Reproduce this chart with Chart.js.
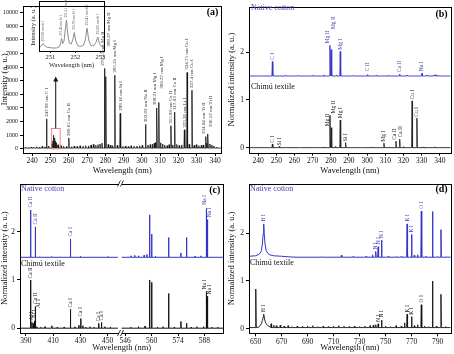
<!DOCTYPE html>
<html>
<head>
<meta charset="utf-8">
<script src="https://cdn.jsdelivr.net/npm/chart.js@4.4.1/dist/chart.umd.min.js"></script>
<style>
  html, body { margin: 0; padding: 0; background: #fff; }
  canvas { position: absolute; }
</style>
</head>
<body>
<canvas id="chartA" width="227" height="177" style="left:0;top:0"></canvas>
<canvas id="chartB" width="227" height="177" style="left:227px;top:0"></canvas>
<canvas id="chartC" width="227" height="177" style="left:0;top:177px"></canvas>
<canvas id="chartD" width="227" height="177" style="left:227px;top:177px"></canvas>
<canvas id="chartInset" width="80" height="70" style="left:28px;top:0"></canvas>
<script>
// ---------------- panel (a): raw spectrum 240-340 nm ----------------
var aTicksX = [240, 250, 260, 270, 280, 290, 300, 310, 320, 330, 340];
var aTicksY = [0, 1000, 2000, 3000, 4000, 5000, 6000, 7000, 8000, 9000, 10000];
var aBase = 60;
var aLineWl  = [247.86, 250.69, 251.43, 251.61, 251.92, 252.41, 252.85, 253.4, 260.05, 279.55, 280.27, 285.21, 288.16, 302.0, 308.21, 309.27, 315.89, 317.93, 323.26, 324.75, 327.40, 334.94, 336.12];
var aLineInt = [2200, 350, 600, 1000, 700, 800, 550, 450, 800, 5900, 5300, 5400, 2600, 1800, 3000, 3400, 1700, 2700, 1400, 5600, 4300, 900, 1100];
var aNoiseWl  = [236.5, 238, 239.5, 241, 242.5, 244, 245.5, 247, 249, 254.2, 255.8, 257.2, 258.8, 261.5, 263, 264.6, 266.2, 267.8, 269.3, 270.8, 272.2, 273.5, 274.8, 276, 277.1, 278.2, 281.6, 282.8, 284, 286.6, 289.6, 291, 292.6, 294.1, 295.7, 297.3, 298.8, 300.2, 303.3, 304.6, 305.8, 306.8, 307.5, 310.2, 311.3, 312.5, 313.8, 314.9, 316.9, 319.1, 320.4, 321.7, 325.9, 328.6, 329.8, 331.2, 332.5, 333.6, 335.6, 337.2, 338.3, 339.4, 341];
var aNoiseInt = [110, 90, 140, 120, 160, 130, 180, 150, 210, 300, 230, 190, 200, 160, 210, 180, 230, 200, 240, 220, 290, 330, 270, 310, 360, 420, 330, 280, 240, 260, 180, 210, 170, 230, 200, 210, 220, 260, 290, 320, 360, 420, 480, 450, 360, 280, 230, 310, 290, 330, 250, 290, 330, 260, 310, 230, 260, 290, 420, 360, 290, 210, 140];
var aLabelWl   = [247.86, 260.05, 279.55, 280.27, 285.21, 288.16, 302.0, 308.21, 309.27, 315.89, 317.93, 323.26, 324.75, 327.40, 334.94, 336.12];
var aLabelAt   = [2350, 950, 6100, 7500, 5600, 2800, 1950, 3200, 4400, 1850, 2850, 1550, 5800, 4450, 1100, 1600];
var aLabelText = ['247.86 nm C I', '260.05 nm Ca II', '279.55 nm Mg II', '280.27 nm Mg II', '285.21 nm Mg I', '288.16 nm Si I', '302.02 nm Na II', '308.21 nm Mg I', '309.27 nm Mg I', '315.89 nm Ca II', '317.93 nm Ca II', '323.26 nm Li I', '324.75 nm Cu I', '327.4 nm Cu I', '334.94 nm Ti II', '336.12 nm Ti II'];
var aLabelNudge = [0, 0, -2, 3, 0, 0, 0, -2, 3, 0, 0, 0, 0, 0, -2, 3];
var aBoxWl = [250.5, 255.3];
var aBoxInt = [0, 1500];
var aArrowWl = 252.9;
var aArrowInt = [1500, 5300];

// inset of (a): 250.5-253.2 nm
var insetTicksX = [251, 252, 253];
var insetWl  = [250.55, 250.62, 250.67, 250.72, 250.77, 250.85, 250.95, 251.1, 251.25, 251.35, 251.41, 251.45, 251.5, 251.55, 251.6, 251.65, 251.7, 251.76, 251.84, 251.91, 251.96, 252.02, 252.1, 252.2, 252.32, 252.4, 252.47, 252.54, 252.62, 252.72, 252.82, 252.9, 252.97, 253.05, 253.15];
var insetInt = [0.07, 0.09, 0.12, 0.15, 0.11, 0.08, 0.07, 0.06, 0.06, 0.08, 0.14, 0.25, 0.15, 0.2, 0.42, 0.62, 0.34, 0.16, 0.14, 0.24, 0.37, 0.2, 0.11, 0.09, 0.11, 0.22, 0.46, 0.22, 0.11, 0.1, 0.16, 0.28, 0.15, 0.09, 0.08];
var insetLabelWl   = [250.72, 251.45, 251.65, 251.96, 252.47, 252.9];
var insetLabelAt   = [0.19, 0.3, 0.67, 0.42, 0.51, 0.33];
var insetLabelText = ['250.69 nm Si I', '251.43 nm Si I', '251.61 nm Si I', '251.92 nm Si I', '252.41 nm Si I', '252.85 nm Si I'];

// ---------------- panel (b): normalised 240-340 nm ----------------
var bTicksX = [240, 250, 260, 270, 280, 290, 300, 310, 320, 330, 340];
var bTicksY = [0, 1, 2];
var bNativeBase = 1.5;
var bNativeWl  = [247.86, 279.55, 280.27, 285.21, 300.3, 317.93, 330.23, 336.6, 337.6, 255, 262, 270, 276, 283, 292, 305, 312, 322, 333, 339];
var bNativeInt = [1.80, 2.14, 2.05, 2.01, 1.53, 1.54, 1.56, 1.52, 1.525, 1.51, 1.51, 1.515, 1.52, 1.515, 1.51, 1.515, 1.515, 1.52, 1.52, 1.515];
var bChimuBase = 0.005;
var bChimuWl  = [247.86, 251.6, 279.55, 280.27, 285.21, 288.16, 309.27, 315.89, 317.93, 324.75, 327.40, 256, 263, 270, 276, 282.5, 292, 297, 303, 312, 320, 331, 337];
var bChimuInt = [0.08, 0.03, 0.68, 0.42, 0.58, 0.11, 0.10, 0.14, 0.18, 0.98, 0.62, 0.012, 0.01, 0.015, 0.02, 0.025, 0.015, 0.01, 0.02, 0.02, 0.025, 0.02, 0.02];
var bNatLabWl   = [247.86, 279.55, 280.27, 285.21, 300.3, 317.93, 330.23];
var bNatLabAt   = [1.84, 2.18, 2.48, 2.05, 1.6, 1.58, 1.6];
var bNatLabText = ['C I', 'Mg II', 'Mg II', 'Mg I', 'C II', 'Ca II', 'Na I'];
var bNatLabNudge = [0, -2, 2, 0, 0, 0, 0];
var bChiLabWl   = [247.86, 251.6, 279.55, 280.27, 285.21, 288.16, 309.27, 315.89, 317.93, 324.75, 327.40];
var bChiLabAt   = [0.11, 0.05, 0.45, 0.72, 0.62, 0.14, 0.13, 0.17, 0.22, 1.01, 0.65];
var bChiLabText = ['C I', 'Si I', 'Mg II', 'Mg II', 'Mg I', 'Si I', 'Mg I', 'Ca II', 'Ca II', 'Cu I', 'Cu I'];
var bChiLabNudge = [0, 0, -2, 2, 0, 0, 0, -1, 1, 0, 0];

// ---------------- panel (c): broken axis 390-450 / 546-590 nm ----------------
var cTicksX = [390, 410, 430, 450, 546, 560, 574, 588];
var cTicksY = [0, 1, 2];
var cLeftRange = [385.6, 457.6];
var cRightRange = [544.1, 598];
var cNativeBase = 1.47;
var cNativeWl  = [393.37, 396.85, 422.67, 558.9, 560.0, 569.0, 575.5, 578.5, 588.99, 589.59, 400, 409, 415, 430, 440, 450, 549, 551, 553, 556, 557.5, 562, 583, 586];
var cNativeInt = [2.45, 2.10, 1.85, 2.35, 1.95, 1.88, 1.56, 1.88, 2.48, 2.25, 1.48, 1.485, 1.48, 1.49, 1.48, 1.485, 1.5, 1.51, 1.5, 1.51, 1.53, 1.49, 1.49, 1.5];
var cChimuBase = 0.0;
var cChimuWl  = [393.37, 394.40, 395.5, 396.15, 396.85, 409.0, 422.67, 428.9, 430.25, 431.9, 443.5, 445.5, 553.0, 558.9, 560.0, 569.0, 575.5, 578.5, 587.5, 588.99, 589.59, 398, 401, 404, 413, 418, 426, 434, 437, 440, 448, 452, 549, 556.5, 563, 566, 572, 581, 584, 592, 595];
var cChimuInt = [1.0, 0.12, 0.1, 0.15, 0.45, 0.05, 0.39, 0.06, 0.20, 0.05, 0.10, 0.12, 0.03, 1.0, 0.95, 0.72, 0.14, 0.10, 0.03, 0.76, 0.66, 0.03, 0.02, 0.03, 0.02, 0.02, 0.03, 0.02, 0.03, 0.02, 0.03, 0.02, 0.02, 0.04, 0.02, 0.03, 0.02, 0.02, 0.03, 0.02, 0.02];
var cNatLabWl   = [393.37, 396.85, 422.67, 588.99, 589.59];
var cNatLabAt   = [2.5, 2.15, 1.9, 2.56, 2.3];
var cNatLabText = ['Ca II', 'Ca II', 'Ca I', 'Na I', 'Na I'];
var cNatLabNudge = [0, 0, 0, -2, 2];
var cChiLabWl   = [393.37, 394.40, 396.15, 396.85, 399.5, 422.67, 430.25, 443.5, 445.5, 588.99, 589.59];
var cChiLabAt   = [1.03, 0.16, 0.2, 0.5, 0.42, 0.43, 0.24, 0.14, 0.16, 0.8, 0.7];
var cChiLabText = ['Ca II', 'Al I', 'Al I', 'Ca II', 'Al I', 'Ca I', 'Ca I', 'Ca I', 'Ca I', 'Na I', 'Na I'];
var cChiLabNudge = [0, 0, 0, 0, 0, 0, 0, 0, 0, -2, 2];

// ---------------- panel (d): normalised 650-800 nm ----------------
var dTicksX = [650, 670, 690, 710, 730, 750, 770, 790];
var dTicksY = [0, 1, 2];
var dNativeBase = 1.5;
var dNativeWl  = [716, 742.36, 744.23, 746.83, 766.49, 769.90, 777.4, 786.0, 792.5, 680, 700, 725, 735, 740, 752, 758, 762, 772, 774.5, 781, 789.5, 797];
var dNativeInt = [1.54, 1.62, 1.72, 1.86, 2.2, 1.98, 2.47, 2.46, 2.08, 1.51, 1.51, 1.515, 1.52, 1.55, 1.52, 1.51, 1.515, 1.54, 1.55, 1.52, 1.51, 1.51];
var dNativeHWl  = [645, 650, 652, 653.5, 654.5, 655.3, 655.9, 656.3, 656.7, 657.3, 658.2, 659.5, 661, 664, 670];
var dNativeHInt = [1.52, 1.53, 1.55, 1.58, 1.64, 1.78, 2.0, 2.2, 2.0, 1.78, 1.64, 1.58, 1.55, 1.53, 1.52];
var dChimuBase = 0.02;
var dChimuWl  = [650.2, 742.36, 744.23, 746.83, 766.49, 769.90, 777.4, 786.0, 792.5, 662, 664, 666, 669, 672, 675, 678, 682, 686, 690, 694, 698, 702, 706, 710, 714, 718, 722, 726, 730, 734, 738, 740.5, 750, 754, 758, 762, 764.5, 772, 774.5, 780, 783, 789, 796];
var dChimuInt = [0.83, 0.08, 0.1, 0.18, 0.3, 0.25, 0.5, 1.0, 0.72, 0.1, 0.07, 0.06, 0.07, 0.05, 0.06, 0.04, 0.05, 0.04, 0.05, 0.06, 0.04, 0.05, 0.04, 0.05, 0.06, 0.05, 0.04, 0.05, 0.04, 0.05, 0.06, 0.07, 0.05, 0.04, 0.06, 0.05, 0.12, 0.06, 0.08, 0.05, 0.04, 0.05, 0.04];
var dChimuHWl  = [652.5, 653.5, 654.5, 655.3, 655.9, 656.3, 656.7, 657.3, 658.2, 659.5, 661];
var dChimuHInt = [0.03, 0.06, 0.1, 0.17, 0.24, 0.3, 0.24, 0.16, 0.1, 0.06, 0.04];
var dNatLabWl   = [656.3, 742.36, 744.23, 746.83, 766.49, 769.90, 777.4];
var dNatLabAt   = [2.25, 1.66, 1.77, 1.9, 2.25, 2.02, 2.52];
var dNatLabText = ['H I', 'N I', 'N I', 'N I', 'K I', 'K I', 'O I'];
var dChiLabWl   = [656.3, 744.23, 746.83, 766.49, 769.90, 777.4];
var dChiLabAt   = [0.35, 0.14, 0.23, 0.34, 0.29, 0.55];
var dChiLabText = ['H I', 'N I', 'N I', 'K I', 'K I', 'O I'];

// ---------------- helpers ----------------
Chart.defaults.font.family = '"Liberation Serif", "Times New Roman", serif';
Chart.defaults.color = '#111';

var BLUE = '#3434c8';
var BLUE_TEXT = '#4444b4';

// spectrum polyline: baseline plus one narrow spike per listed line
function spectrum(base, lo, hi, half, wl, inten, profWl, profInt) {
  var pts = [{x: lo, y: base}, {x: hi, y: base}];
  for (var i = 0; i < wl.length; i++) {
    if (wl[i] < lo || wl[i] > hi) continue;
    pts.push({x: wl[i] - half, y: base}, {x: wl[i], y: inten[i]}, {x: wl[i] + half, y: base});
  }
  if (profWl) {
    for (var j = 0; j < profWl.length; j++) {
      if (profWl[j] >= lo && profWl[j] <= hi) pts.push({x: profWl[j], y: profInt[j]});
    }
  }
  pts.sort(function (p, q) { return p.x - q.x; });
  return pts;
}

// broken axis of panel (c): left part 1:1, right part stretched
function cX(wl) { return wl < 500 ? wl : 482.4 + (wl - 560) * 1.387; }
function mapped(pts, f) { return pts.map(function (p) { return {x: f(p.x), y: p.y}; }); }

function line(data, color, width) {
  return {data: data, borderColor: color, borderWidth: width || 0.9, pointRadius: 0, tension: 0, fill: false};
}

function drawLabels(ctx, xs, ys, wl, at, text, nudge, color, size, f) {
  ctx.fillStyle = color;
  ctx.font = size + 'px "Liberation Serif"';
  ctx.textAlign = 'left';
  ctx.textBaseline = 'middle';
  for (var i = 0; i < wl.length; i++) {
    var px = xs.getPixelForValue(f ? f(wl[i]) : wl[i]) + (nudge ? nudge[i] : 0);
    var py = ys.getPixelForValue(at[i]);
    ctx.save();
    ctx.translate(px, py);
    ctx.rotate(-Math.PI / 2);
    ctx.fillText(text[i], 0, 0);
    ctx.restore();
  }
}

function frame(ctx, area) {
  ctx.strokeStyle = '#000';
  ctx.lineWidth = 1;
  ctx.strokeRect(Math.round(area.left) + 0.5, Math.round(area.top) + 0.5,
                 Math.round(area.right) - Math.round(area.left), Math.round(area.bottom) - Math.round(area.top));
}

function text(ctx, str, x, y, font, color, align) {
  ctx.font = font;
  ctx.fillStyle = color;
  ctx.textAlign = align || 'left';
  ctx.textBaseline = 'middle';
  ctx.fillText(str, x, y);
}

function deco(draw) {
  return {id: 'deco', afterDatasetsDraw: function (chart) {
    var ctx = chart.ctx;
    ctx.save();
    draw(chart, ctx, chart.scales.x, chart.scales.y);
    ctx.restore();
  }};
}

function axes(o) {
  return {
    x: {
      type: 'linear', min: o.xMin, max: o.xMax,
      afterBuildTicks: function (s) { s.ticks = o.ticksX.map(function (v) { return {value: o.map ? o.map(v) : v}; }); },
      afterFit: function (s) { s.height = o.xH; },
      grid: {drawOnChartArea: false, tickLength: 3, color: '#000'},
      border: {display: false},
      ticks: {font: {size: o.xFont || 7.5}, color: '#111', padding: 1, maxRotation: 0, autoSkip: false,
              callback: function (v, i) { return String(o.ticksX[i]); }},
      title: {display: true, text: 'Wavelength (nm)', font: {size: o.tFont || 8.5}, color: '#111', padding: {top: 0, bottom: 1}}
    },
    y: {
      min: o.yMin, max: o.yMax,
      afterBuildTicks: function (s) { s.ticks = o.ticksY.map(function (v) { return {value: v}; }); },
      afterFit: function (s) { s.width = o.yW; },
      grid: {drawOnChartArea: false, tickLength: 3, color: '#000'},
      border: {display: false},
      ticks: {font: {size: o.yFont || 7.5}, color: '#111', padding: 2,
              callback: function (v, i) { return String(o.ticksY[i]); }},
      title: {display: true, text: o.yTitle, font: {size: o.tFont || 8.5}, color: '#111', padding: {top: 0, bottom: 0}}
    }
  };
}

function make(id, datasets, o, draw) {
  return new Chart(document.getElementById(id), {
    type: 'line',
    data: {datasets: datasets},
    options: {
      responsive: false, animation: false, parsing: true,
      layout: {padding: {top: o.top, right: o.right, left: 0, bottom: 0}},
      plugins: {legend: {display: false}, tooltip: {enabled: false}},
      scales: axes(o)
    },
    plugins: [deco(draw)]
  });
}

// ---------------- (a) ----------------
make('chartA', [
  line(spectrum(aBase, 235, 343.5, 0.25, aLineWl.concat(aNoiseWl), aLineInt.concat(aNoiseInt)), '#111', 0.8)
], {xMin: 235, xMax: 343.5, yMin: -300, yMax: 10500, ticksX: aTicksX, ticksY: aTicksY,
    xH: 24, yW: 23, top: 2, right: 5.6, yFont: 6, yTitle: 'Intensity (a. u.)'},
function (chart, ctx, xs, ys) {
  frame(ctx, chart.chartArea);
  drawLabels(ctx, xs, ys, aLabelWl, aLabelAt, aLabelText, aLabelNudge, '#333', 5, null);
  // red box around the Si I group and arrow to the inset
  var x0 = xs.getPixelForValue(aBoxWl[0]), x1 = xs.getPixelForValue(aBoxWl[1]);
  var y0 = ys.getPixelForValue(aBoxInt[0]), y1 = ys.getPixelForValue(aBoxInt[1]);
  ctx.strokeStyle = '#e07070';
  ctx.lineWidth = 0.8;
  ctx.strokeRect(x0, y1, x1 - x0, y0 - y1);
  var ax = xs.getPixelForValue(aArrowWl);
  var ayFrom = ys.getPixelForValue(aArrowInt[0]), ayTo = ys.getPixelForValue(aArrowInt[1]);
  ctx.strokeStyle = '#111';
  ctx.lineWidth = 1;
  ctx.beginPath(); ctx.moveTo(ax, ayFrom); ctx.lineTo(ax, ayTo + 4); ctx.stroke();
  ctx.fillStyle = '#111';
  ctx.beginPath(); ctx.moveTo(ax, ayTo); ctx.lineTo(ax - 2.5, ayTo + 5); ctx.lineTo(ax + 2.5, ayTo + 5); ctx.closePath(); ctx.fill();
  text(ctx, '(a)', chart.chartArea.right - 3, 12, 'bold 10px "Liberation Serif"', '#000', 'right');
});

// inset
new Chart(document.getElementById('chartInset'), {
  type: 'line',
  data: {datasets: [line(insetWl.map(function (w, i) { return {x: w, y: insetInt[i]}; }), '#808080', 0.9)]},
  options: {
    responsive: false, animation: false,
    layout: {padding: {top: 1, right: 4, left: 0, bottom: 0}},
    plugins: {legend: {display: false}, tooltip: {enabled: false}},
    scales: {
      x: {type: 'linear', min: 250.55, max: 253.15,
          afterBuildTicks: function (s) { s.ticks = insetTicksX.map(function (v) { return {value: v}; }); },
          afterFit: function (s) { s.height = 19; },
          grid: {drawOnChartArea: false, tickLength: 2, color: '#333'}, border: {display: false},
          ticks: {font: {size: 6.5}, color: '#222', padding: 0, maxRotation: 0, autoSkip: false},
          title: {display: true, text: 'Wavelength (nm)', font: {size: 6.5}, color: '#222', padding: {top: 0, bottom: 1}}},
      y: {min: 0, max: 1,
          afterFit: function (s) { s.width = 11; },
          grid: {display: false}, border: {display: false},
          ticks: {display: false},
          title: {display: true, text: 'Intensity (a. u.)', font: {size: 6.5}, color: '#222', padding: {top: 1, bottom: 0}}}
    }
  },
  plugins: [deco(function (chart, ctx, xs, ys) {
    frame(ctx, chart.chartArea);
    drawLabels(ctx, xs, ys, insetLabelWl, insetLabelAt, insetLabelText, null, '#555', 3.5, null);
  })]
});

// ---------------- (b) ----------------
make('chartB', [
  line(spectrum(bNativeBase, 235, 346, 0.25, bNativeWl, bNativeInt), BLUE, 0.9),
  line(spectrum(bChimuBase, 235, 346, 0.25, bChimuWl, bChimuInt), '#222', 0.9)
], {xMin: 235, xMax: 346, yMin: -0.1, yMax: 2.95, ticksX: bTicksX, ticksY: bTicksY,
    xH: 24.3, yW: 22, top: 2, right: 3.3, yTitle: 'Normalized intensity (a. u.)'},
function (chart, ctx, xs, ys) {
  frame(ctx, chart.chartArea);
  drawLabels(ctx, xs, ys, bNatLabWl, bNatLabAt, bNatLabText, bNatLabNudge, BLUE_TEXT, 5.5, null);
  drawLabels(ctx, xs, ys, bChiLabWl, bChiLabAt, bChiLabText, bChiLabNudge, '#222', 5.5, null);
  text(ctx, 'Native cotton', 24, 7.5, '8px "Liberation Serif"', BLUE_TEXT);
  text(ctx, 'Chimú textile', 24, 87, '8px "Liberation Serif"', '#111');
  text(ctx, '(b)', chart.chartArea.right - 3, 14, 'bold 10px "Liberation Serif"', '#000', 'right');
});

// ---------------- (c) ----------------
make('chartC', [
  line(mapped(spectrum(cNativeBase, cLeftRange[0], cLeftRange[1], 0.2, cNativeWl, cNativeInt), cX), BLUE, 1),
  line(mapped(spectrum(cNativeBase, cRightRange[0], cRightRange[1], 0.15, cNativeWl, cNativeInt), cX), BLUE, 1),
  line(mapped(spectrum(cChimuBase, cLeftRange[0], cLeftRange[1], 0.2, cChimuWl, cChimuInt), cX), '#111', 1),
  line(mapped(spectrum(cChimuBase, cRightRange[0], cRightRange[1], 0.15, cChimuWl, cChimuInt), cX), '#111', 1)
], {xMin: cX(385.6), xMax: cX(598), yMin: -0.1, yMax: 3.0, ticksX: cTicksX, ticksY: cTicksY, map: cX,
    xH: 21, yW: 20, top: 3, right: 3.7, yTitle: 'Normalized intensity (a. u.)'},
function (chart, ctx, xs, ys) {
  var a = chart.chartArea;
  frame(ctx, a);
  // axis break between the two wavelength windows
  var g0 = Math.round(xs.getPixelForValue(cX(cLeftRange[1]))) + 1;
  var g1 = Math.round(xs.getPixelForValue(cX(cRightRange[0])));
  ctx.fillStyle = '#fff';
  ctx.fillRect(g0, a.top - 1, g1 - g0, 3);
  ctx.fillRect(g0, a.bottom - 1, g1 - g0, 3);
  ctx.strokeStyle = '#000';
  ctx.lineWidth = 0.8;
  [a.top, a.bottom].forEach(function (yy) {
    [g0, g1].forEach(function (xx) {
      ctx.beginPath(); ctx.moveTo(xx - 1.5, yy + 3); ctx.lineTo(xx + 1.5, yy - 3); ctx.stroke();
    });
  });
  drawLabels(ctx, xs, ys, cNatLabWl, cNatLabAt, cNatLabText, cNatLabNudge, BLUE_TEXT, 5.5, cX);
  drawLabels(ctx, xs, ys, cChiLabWl, cChiLabAt, cChiLabText, cChiLabNudge, '#222', 5.5, cX);
  text(ctx, 'Native cotton', 21, 12, '8px "Liberation Serif"', BLUE_TEXT);
  text(ctx, 'Chimú textile', 21, 86.5, '8px "Liberation Serif"', '#111');
  text(ctx, '(c)', a.right - 3, 13, 'bold 10px "Liberation Serif"', '#000', 'right');
});

// ---------------- (d) ----------------
make('chartD', [
  line(spectrum(dNativeBase, 645, 800, 0.35, dNativeWl, dNativeInt, dNativeHWl, dNativeHInt), BLUE, 1),
  line(spectrum(dChimuBase, 645, 800, 0.35, dChimuWl, dChimuInt, dChimuHWl, dChimuHInt), '#111', 0.9)
], {xMin: 645, xMax: 800, yMin: -0.1, yMax: 3.05, ticksX: dTicksX, ticksY: dTicksY,
    xH: 20.7, yW: 22, top: 1.5, right: 3.3, yTitle: 'Normalized intensity (a. u.)'},
function (chart, ctx, xs, ys) {
  frame(ctx, chart.chartArea);
  drawLabels(ctx, xs, ys, dNatLabWl, dNatLabAt, dNatLabText, null, BLUE_TEXT, 5.5, null);
  drawLabels(ctx, xs, ys, dChiLabWl, dChiLabAt, dChiLabText, null, '#222', 5.5, null);
  text(ctx, 'Native cotton', 23, 12, '8px "Liberation Serif"', BLUE_TEXT);
  text(ctx, 'Chimú textile', 23, 86, '8px "Liberation Serif"', '#111');
  text(ctx, '(d)', chart.chartArea.right - 3, 12, 'bold 10px "Liberation Serif"', '#000', 'right');
});
</script>
</body>
</html>
